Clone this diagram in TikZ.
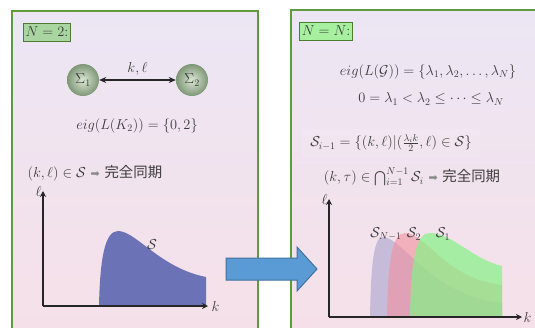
\documentclass[tikz,border=0pt]{standalone}
\usepackage{amsmath,amssymb}
\usepackage{fontspec}
\usepackage{tikz}
\usetikzlibrary{arrows.meta,positioning,shadings}
\newfontfamily\cjk{Noto Sans CJK JP}
\newfontfamily\symfont{DejaVu Sans}
\definecolor{panelgreen}{HTML}{5E9B3C}
\definecolor{toplav}{HTML}{ECE6F4}
\definecolor{botpink}{HTML}{F6E0E8}
\definecolor{tagfill}{HTML}{A9D6A0}
\definecolor{tagfillb}{HTML}{A6F0A0}
\definecolor{inkgray}{HTML}{3C3C3C}
\definecolor{ballin}{HTML}{DCE8D6}
\definecolor{ballout}{HTML}{7E9676}
\definecolor{regblue}{HTML}{6C72B6}
\definecolor{reglav}{HTML}{C6BCDA}
\definecolor{regpink}{HTML}{F2909F}
\definecolor{reggreen}{HTML}{86F286}
\definecolor{arrfill}{HTML}{5B9BD5}
\definecolor{arrdraw}{HTML}{41719C}
\newcommand{\imp}{{\symfont\color{inkgray!60}\fontsize{11}{13}\selectfont ➡}}

\begin{document}
\begin{tikzpicture}[
  x=1pt,y=-1pt,
  every node/.style={text=inkgray,font=\fontsize{14.4}{17}\selectfont},
  panel/.style={draw=panelgreen,line width=1.6pt,top color=toplav,bottom color=botpink},
  tag/.style={draw=panelgreen!80!black,line width=0.8pt,inner sep=2pt,minimum height=18pt},
  ball/.style={circle,minimum size=32pt,inner sep=0pt,inner color=ballin,outer color=ballout},
  axis/.style={-{Stealth[length=6pt,width=6pt]},line width=1.4pt,draw=black!85},
  link/.style={{Stealth[length=7pt,width=6pt]}-{Stealth[length=7pt,width=6pt]},line width=1.4pt,draw=black!85},
  bigarrow/.style={fill=arrfill,draw=arrdraw,line width=1pt}
]
\clip (0,0) rectangle (535,327);
\fill[white] (0,0) rectangle (535,327);

% panels
\draw[panel] (12,11) rectangle (258,345);
\draw[panel] (291,10) rectangle (560,345);

% left: N = 2
\node[tag,fill=tagfill] (tagtwo) at (47,32) {$N=2$:};
\node[ball] (sig1) at (83,80) {$\Sigma_1$};
\node[ball] (sig2) at (192,80) {$\Sigma_2$};
\draw[link] (sig1)--(sig2) node[midway,above=1pt] (kl) {$k,\ell$};
\node (eigtwo) at (137,126) {$eig(L(K_2))=\{0,2\}$};
\node[anchor=west] (condtwo) at (24,173) {$(k,\ell)\in\mathcal{S}$ \imp\ {\cjk 完全同期}};

\coordinate (lo) at (43,306);
\coordinate (ltop) at (43,191);
\coordinate (lend) at (208,306);
\fill[regblue] (99,306) .. controls (100,258) and (105,231) .. (118,231)
  .. controls (136,231) and (160,268) .. (206,277) -- (206,306) -- cycle;
\draw[axis] (lo)--(ltop);
\draw[axis] (lo)--(lend);
\node[left=-2pt] (lell) at (ltop) {$\ell$};
\node[right=0pt] (lk) at (lend) {$k$};
\node (sreg) at (152,245) {$\mathcal{S}$};

% arrow between panels
\draw[bigarrow] (226,258) -- (297,258) -- (297,247) -- (317,269) -- (297,291)
  -- (297,280) -- (226,280) -- cycle;

% right: N = N
\node[tag,fill=tagfillb] (tagn) at (326,31) {$N=N$:};
\node (eign) at (428,72) {$eig(L(\mathcal{G}))=\{\lambda_1,\lambda_2,\ldots,\lambda_N\}$};
\node (order) at (431,99) {$0=\lambda_1<\lambda_2\leq\cdots\leq\lambda_N$};
\node[fill=white,fill opacity=0.08,text opacity=1,inner xsep=8pt,inner ysep=5pt] (sdef) at (391,143)
  {$\mathcal{S}_{i-1}=\{(k,\ell)|(\frac{\lambda_i k}{2},\ell)\in\mathcal{S}\}$};
\node (condn) at (412,177) {$(k,\tau)\in\bigcap_{i=1}^{N-1}\mathcal{S}_i$ \imp\ {\cjk 完全同期}};

\coordinate (ro) at (329,317);
\coordinate (rtop) at (329,199);
\coordinate (rend) at (522,317);
\fill[reglav] (370,317) .. controls (371,262) and (374,237) .. (383,237)
  .. controls (402,237) and (432,296) .. (502,303) -- (502,317) -- cycle;
\fill[regpink,opacity=0.6] (387,317) .. controls (388,260) and (392,233) .. (405,233)
  .. controls (426,233) and (446,279) .. (502,285) -- (502,317) -- cycle;
\fill[reggreen,opacity=0.7] (410,317) .. controls (411,258) and (416,233) .. (430,233)
  .. controls (452,233) and (472,259) .. (502,266) -- (502,317) -- cycle;
\draw[axis] (ro)--(rtop);
\draw[axis] (ro)--(rend);
\node[left=-2pt] (rell) at (rtop) {$\ell$};
\node[right=-2pt] (rk) at (rend) {$k$};
\node (snm) at (386,234) {$\mathcal{S}_{N-1}$};
\node (stwo) at (414,234) {$\mathcal{S}_2$};
\node (sone) at (443,234) {$\mathcal{S}_1$};
\end{tikzpicture}
\end{document}
